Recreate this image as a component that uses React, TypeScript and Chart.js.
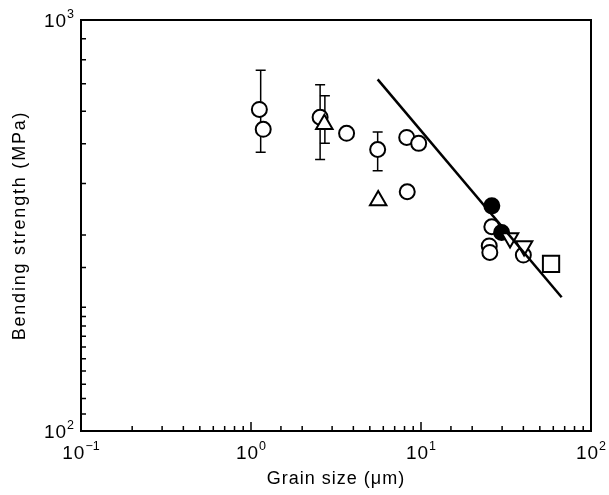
import React, { useEffect, useRef } from 'react';
import { Chart, registerables } from 'chart.js';
Chart.register(...registerables);

// ---- data ----
const openCircleX = [1.12, 1.18, 2.55, 3.65, 5.56, 8.3, 8.24, 9.69, 26.1, 25.2, 25.4, 40.0];
const openCircleY = [606, 542, 580, 530, 484, 382, 518, 501, 314, 282, 272, 268];
const filledCircleX = [26.1, 29.8];
const filledCircleY = [353, 304];
const upTriangleX = [2.7, 5.6];
const upTriangleY = [558, 364];
const downTriangleX = [33.4, 40.4];
const downTriangleY = [295, 282];
const squareX = [58.2];
const squareY = [255];
const fitLineX = [5.56, 67.2];
const fitLineY = [717, 211.5];
const errorBarX = [1.14, 2.55, 2.72, 5.56];
const errorBarLow = [477, 458, 501, 430];
const errorBarHigh = [755, 696, 654, 534];
const xDecades = [0.1, 1, 10, 100];
const xDecadeExponents = ['−1', '0', '1', '2'];
const yDecades = [100, 1000];
const yDecadeExponents = ['2', '3'];
const xTitle = 'Grain size (μm)';
const yTitle = 'Bending strength (MPa)';

const FAMILY = "'Liberation Sans', Arial, Helvetica, sans-serif";

const pts = (xs: number[], ys: number[]) => xs.map((x, i) => ({ x, y: ys[i] }));
const isDecade = (v: number) => Math.abs(Math.log10(v) - Math.round(Math.log10(v))) < 1e-6;

const framePlugin = {
  id: 'framePlugin',
  beforeDatasetsDraw(chart: any) {
    const { ctx, scales } = chart;
    const xs = scales.x, ys = scales.y;
    ctx.save();
    ctx.strokeStyle = '#000';
    ctx.lineWidth = 1.5;
    const cap = 5;
    errorBarX.forEach((x, i) => {
      const px = xs.getPixelForValue(x);
      const pLo = ys.getPixelForValue(errorBarLow[i]);
      const pHi = ys.getPixelForValue(errorBarHigh[i]);
      ctx.beginPath();
      ctx.moveTo(px, pLo);
      ctx.lineTo(px, pHi);
      ctx.moveTo(px - cap, pLo);
      ctx.lineTo(px + cap, pLo);
      ctx.moveTo(px - cap, pHi);
      ctx.lineTo(px + cap, pHi);
      ctx.stroke();
    });
    ctx.restore();
  },
  afterDraw(chart: any) {
    const { ctx, chartArea: a, scales } = chart;
    ctx.save();
    ctx.strokeStyle = '#000';
    ctx.lineWidth = 2;
    ctx.strokeRect(a.left, a.top, a.right - a.left, a.bottom - a.top);
    ctx.lineWidth = 1.5;
    ctx.beginPath();
    scales.x.ticks.forEach((t: any) => {
      const px = scales.x.getPixelForValue(t.value);
      const len = isDecade(t.value) ? 9 : 5;
      ctx.moveTo(px, a.bottom);
      ctx.lineTo(px, a.bottom - len);
    });
    scales.y.ticks.forEach((t: any) => {
      const py = scales.y.getPixelForValue(t.value);
      const len = isDecade(t.value) ? 9 : 5;
      ctx.moveTo(a.left, py);
      ctx.lineTo(a.left + len, py);
    });
    ctx.stroke();

    // decade labels with superscript exponents
    const baseFont = `19px ${FAMILY}`;
    const expFont = `12.5px ${FAMILY}`;
    ctx.fillStyle = '#000';
    ctx.textBaseline = 'alphabetic';
    ctx.textAlign = 'left';
    const widths = (exp: string) => {
      ctx.font = baseFont;
      (ctx as any).letterSpacing = '1px';
      const w1 = ctx.measureText('10').width;
      ctx.font = expFont;
      (ctx as any).letterSpacing = '0px';
      const w2 = ctx.measureText(exp).width;
      return [w1, w2];
    };
    const drawPow = (exp: string, left: number, base: number) => {
      const [w1] = widths(exp);
      ctx.font = baseFont;
      (ctx as any).letterSpacing = '1px';
      ctx.fillText('10', left, base);
      ctx.font = expFont;
      (ctx as any).letterSpacing = '0px';
      ctx.fillText(exp, left + w1, base - 9);
    };
    xDecades.forEach((d, i) => {
      const px = scales.x.getPixelForValue(d);
      const [w1, w2] = widths(xDecadeExponents[i]);
      drawPow(xDecadeExponents[i], px - (w1 + w2) / 2, a.bottom + 28);
    });
    yDecades.forEach((d, i) => {
      const py = scales.y.getPixelForValue(d);
      const [w1, w2] = widths(yDecadeExponents[i]);
      drawPow(yDecadeExponents[i], a.left - 7 - (w1 + w2), py + 7);
    });

    // axis titles
    ctx.font = `18px ${FAMILY}`;
    ctx.textAlign = 'center';
    (ctx as any).letterSpacing = '1px';
    ctx.fillText(xTitle, (a.left + a.right) / 2, chart.height - 11);
    ctx.save();
    ctx.translate(25, (a.top + a.bottom) / 2);
    ctx.rotate(-Math.PI / 2);
    (ctx as any).letterSpacing = '1.8px';
    ctx.fillText(yTitle, 0, 0);
    ctx.restore();
    ctx.restore();
  },
};

export default function App() {
  const ref = useRef<HTMLCanvasElement>(null);
  useEffect(() => {
    if (!ref.current) return;
    const marker = {
      backgroundColor: '#fff',
      borderColor: '#000',
      borderWidth: 2,
    };
    const chart = new Chart(ref.current, {
      type: 'scatter',
      data: {
        datasets: [
          {
            type: 'line',
            label: 'fit',
            data: pts(fitLineX, fitLineY),
            borderColor: '#000',
            borderWidth: 2.5,
            pointRadius: 0,
            showLine: true,
            fill: false,
            order: 0,
          } as any,
          {
            label: 'up triangles',
            data: pts(upTriangleX, upTriangleY),
            pointStyle: 'triangle',
            pointRadius: 9.5,
            ...marker,
            order: 1,
          },
          {
            label: 'down triangles',
            data: pts(downTriangleX, downTriangleY),
            pointStyle: 'triangle',
            rotation: 180,
            pointRadius: 9.5,
            ...marker,
            order: 1,
          },
          {
            label: 'squares',
            data: pts(squareX, squareY),
            pointStyle: 'rect',
            pointRadius: 11.5,
            ...marker,
            order: 1,
          },
          {
            label: 'filled circles',
            data: pts(filledCircleX, filledCircleY),
            pointStyle: 'circle',
            pointRadius: 7.5,
            ...marker,
            backgroundColor: '#000',
            order: 2,
          },
          {
            label: 'open circles',
            data: pts(openCircleX, openCircleY),
            pointStyle: 'circle',
            pointRadius: 7.5,
            ...marker,
            order: 3,
          },
        ],
      },
      options: {
        animation: false,
        responsive: true,
        maintainAspectRatio: false,
        layout: { padding: { left: 0, top: 20, right: 18, bottom: 0 } },
        plugins: { legend: { display: false }, tooltip: { enabled: false } },
        scales: {
          x: {
            type: 'logarithmic',
            min: 0.1,
            max: 100,
            grid: { display: false, drawTicks: false },
            border: { display: false },
            ticks: { autoSkip: false, maxRotation: 0, callback: () => '' },
            afterFit: (s: any) => {
              s.height = 64;
            },
          },
          y: {
            type: 'logarithmic',
            min: 100,
            max: 1000,
            grid: { display: false, drawTicks: false },
            border: { display: false },
            ticks: { autoSkip: false, callback: () => '' },
            afterFit: (s: any) => {
              s.width = 81;
            },
          },
        },
      },
      plugins: [framePlugin],
    });
    return () => chart.destroy();
  }, []);
  return (
    <div style={{ position: 'absolute', left: 0, top: 0, width: 609, height: 495, background: '#fff' }}>
      <canvas ref={ref} />
    </div>
  );
}
